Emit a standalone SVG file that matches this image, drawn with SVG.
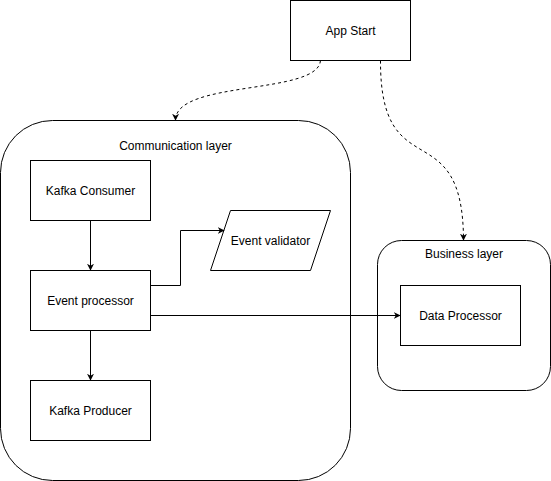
<svg xmlns="http://www.w3.org/2000/svg" width="551" height="481" viewBox="0 0 551 481">
<style>
.box{fill:#fff;stroke:#000;stroke-width:1}
.t{font-family:"Liberation Sans",Arial,sans-serif;font-size:12px;fill:#000;text-anchor:middle;dominant-baseline:central}
.e{fill:none;stroke:#000;stroke-width:1}
.d{fill:none;stroke:#000;stroke-width:1;stroke-dasharray:3 3}
</style>
<defs>
<marker id="a" viewBox="0 0 10 10" refX="9" refY="5" markerWidth="7" markerHeight="7" orient="auto" markerUnits="userSpaceOnUse">
<path d="M0,0 L10,5 L0,10 L3,5 Z" fill="#000"/>
</marker>
</defs>
<rect width="551" height="481" fill="#fff"/>
<g id="comm-layer">
<rect class="box" x="0.5" y="120.5" width="350" height="360" rx="52" ry="52"/>
<text class="t" x="175.5" y="146">Communication layer</text>
</g>
<g id="business-layer">
<rect class="box" x="377.5" y="240.5" width="173" height="150" rx="24" ry="24"/>
<text class="t" x="464" y="254">Business layer</text>
</g>
<g id="app-start">
<rect class="box" x="290.5" y="0.5" width="120" height="60"/>
<text class="t" x="350.5" y="30.5">App Start</text>
</g>
<g id="kafka-consumer">
<rect class="box" x="30.5" y="160.5" width="120" height="60"/>
<text class="t" x="90.5" y="190.5">Kafka Consumer</text>
</g>
<g id="event-processor">
<rect class="box" x="30.5" y="270.5" width="120" height="60"/>
<text class="t" x="90.5" y="300.5">Event processor</text>
</g>
<g id="kafka-producer">
<rect class="box" x="30.5" y="380.5" width="120" height="60"/>
<text class="t" x="90.5" y="410.5">Kafka Producer</text>
</g>
<g id="event-validator">
<path class="box" d="M230.5,210.5 L330.5,210.5 L310.5,270.5 L210.5,270.5 Z"/>
<text class="t" x="270.5" y="240.5">Event validator</text>
</g>
<g id="data-processor">
<rect class="box" x="400.5" y="285.5" width="120" height="60"/>
<text class="t" x="460.5" y="315.5">Data Processor</text>
</g>
<g id="connectors">
<path class="e" d="M90.5,220.5 L90.5,270" marker-end="url(#a)"/>
<path class="e" d="M90.5,330.5 L90.5,380" marker-end="url(#a)"/>
<path class="e" d="M150.5,285.5 L180.5,285.5 L180.5,230.5 L224,230.5" marker-end="url(#a)"/>
<path class="e" d="M150.5,315.5 L400,315.5" marker-end="url(#a)"/>
<path class="d" d="M320.5,60.5 C318,95 176,80 175.5,120" marker-end="url(#a)"/>
<path class="d" d="M380.5,60.5 C380,190 463,110 463.5,240" marker-end="url(#a)"/>
</g>
</svg>
